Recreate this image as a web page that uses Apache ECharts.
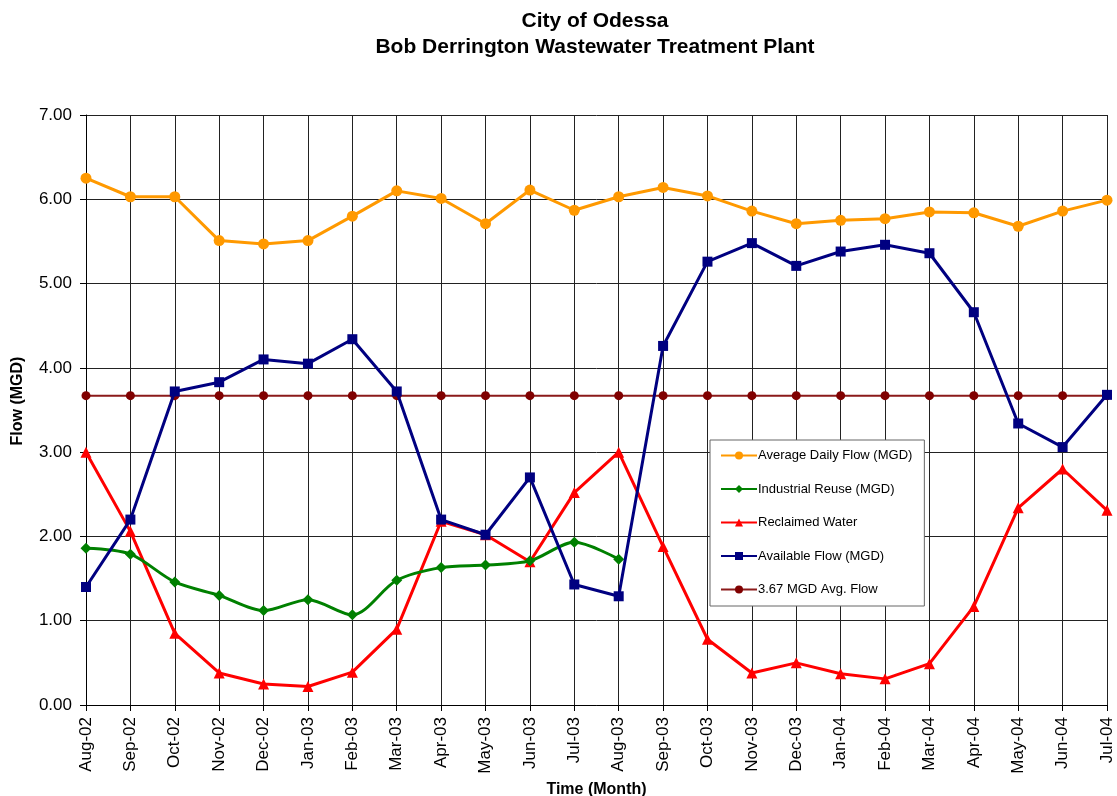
<!DOCTYPE html>
<html>
<head>
<meta charset="utf-8">
<script src="https://cdn.jsdelivr.net/npm/echarts@6/dist/echarts.min.js"></script>
<style>
  html, body { margin: 0; padding: 0; background: #fff; }
  #chart { width: 1117px; height: 796px; }
</style>
</head>
<body>
<div id="chart"></div>
<script>
  // month categories
  const months = ['Aug-02','Sep-02','Oct-02','Nov-02','Dec-02','Jan-03','Feb-03','Mar-03',
    'Apr-03','May-03','Jun-03','Jul-03','Aug-03','Sep-03','Oct-03','Nov-03',
    'Dec-03','Jan-04','Feb-04','Mar-04','Apr-04','May-04','Jun-04','Jul-04'];

  const avgDailyFlow = [6.25,6.03,6.03,5.51,5.47,5.51,5.80,6.10,6.01,5.71,6.11,5.87,
    6.03,6.14,6.04,5.86,5.71,5.75,5.77,5.85,5.84,5.68,5.86,5.99];
  const industrialReuse = [1.86,1.79,1.46,1.30,1.12,1.25,1.07,1.48,1.63,1.66,1.71,1.93,
    1.73,null,null,null,null,null,null,null,null,null,null,null];
  const reclaimedWater = [3.00,2.06,0.85,0.38,0.25,0.22,0.39,0.90,2.18,2.02,1.70,2.52,
    3.00,1.88,0.78,0.38,0.50,0.37,0.31,0.49,1.17,2.34,2.80,2.31];
  const availableFlow = [1.40,2.20,3.72,3.83,4.10,4.05,4.34,3.72,2.20,2.02,2.70,1.43,
    1.29,4.26,5.26,5.48,5.21,5.38,5.46,5.36,4.66,3.34,3.06,3.68];
  const avgFlowLine = months.map(() => 3.67);

  const yTicks = { min: 0, max: 7, interval: 1 };

  let chart = echarts.init(document.getElementById('chart'));
  let font = 'Arial, "Liberation Sans", sans-serif';

  let option = {
    backgroundColor: '#fff',
    animation: false,
    title: {
      text: 'City of Odessa\nBob Derrington Wastewater Treatment Plant',
      left: 590,
      top: 3,
      textAlign: 'center',
      textStyle: {
        fontFamily: font,
        fontSize: 21,
        fontWeight: 'bold',
        color: '#000',
        lineHeight: 26
      }
    },
    legend: {
      orient: 'vertical',
      left: 710,
      top: 440,
      width: 214,
      padding: [9, 12, 10, 10],
      backgroundColor: '#fff',
      borderColor: '#666',
      borderWidth: 1,
      borderRadius: 0,
      itemGap: 20.5,
      itemWidth: 36,
      itemHeight: 10,
      textStyle: { fontFamily: font, fontSize: 13, color: '#000', padding: [0, 0, 0, -4] },
      data: ['Average Daily Flow (MGD)', 'Industrial Reuse (MGD)', 'Reclaimed Water',
        'Available Flow (MGD)', '3.67 MGD Avg. Flow']
    },
    grid: {
      left: 86,
      right: 10,
      top: 115,
      bottom: 91,
      containLabel: false,
      outerBoundsMode: 'none'
    },
    xAxis: {
      type: 'category',
      data: months,
      boundaryGap: false,
      name: 'Time (Month)',
      nameLocation: 'middle',
      nameGap: 72,
      nameTextStyle: { fontFamily: font, fontSize: 16, fontWeight: 'bold', color: '#000' },
      axisLine: { onZero: false, lineStyle: { color: '#000', width: 1 } },
      axisTick: { show: true, alignWithLabel: true, length: 6, lineStyle: { color: '#000' } },
      axisLabel: {
        rotate: 90,
        interval: 0,
        fontFamily: font,
        fontSize: 17,
        color: '#000',
        margin: 12
      },
      splitLine: { show: true, lineStyle: { color: '#222', width: 1 } }
    },
    yAxis: {
      type: 'value',
      min: yTicks.min,
      max: yTicks.max,
      interval: yTicks.interval,
      name: 'Flow (MGD)',
      nameLocation: 'middle',
      nameGap: 60,
      nameTextStyle: { fontFamily: font, fontSize: 16, fontWeight: 'bold', color: '#000', padding: [0, 0, 0, 18] },
      axisLine: { show: true, lineStyle: { color: '#000', width: 1 } },
      axisTick: { show: true, length: 6, lineStyle: { color: '#000' } },
      axisLabel: {
        fontFamily: font,
        fontSize: 17,
        color: '#000',
        margin: 14,
        formatter: v => v.toFixed(2)
      },
      splitLine: { show: true, lineStyle: { color: '#222', width: 1 } }
    },
    series: [
      {
        name: 'Average Daily Flow (MGD)',
        type: 'line',
        data: avgDailyFlow,
        symbol: 'circle',
        symbolSize: 11,
        color: '#FF9900',
        lineStyle: { width: 3, color: '#FF9900' },
        z: 5
      },
      {
        name: 'Industrial Reuse (MGD)',
        type: 'line',
        data: industrialReuse,
        symbol: 'diamond',
        symbolSize: 11,
        smooth: 0.3,
        connectNulls: false,
        color: '#008000',
        lineStyle: { width: 3, color: '#008000' },
        z: 4
      },
      {
        name: 'Reclaimed Water',
        type: 'line',
        data: reclaimedWater,
        symbol: 'triangle',
        symbolSize: 11,
        color: '#FF0000',
        lineStyle: { width: 3, color: '#FF0000' },
        z: 3
      },
      {
        name: 'Available Flow (MGD)',
        type: 'line',
        data: availableFlow,
        symbol: 'rect',
        symbolSize: 10,
        color: '#000080',
        lineStyle: { width: 3, color: '#000080' },
        z: 6
      },
      {
        name: '3.67 MGD Avg. Flow',
        type: 'line',
        data: avgFlowLine,
        symbol: 'circle',
        symbolSize: 9,
        color: '#800000',
        lineStyle: { width: 2, color: '#8B1A1A' },
        z: 2
      }
    ]
  };

  chart.setOption(option);
  window.addEventListener('resize', function () { chart.resize() });
</script>
</body>
</html>
